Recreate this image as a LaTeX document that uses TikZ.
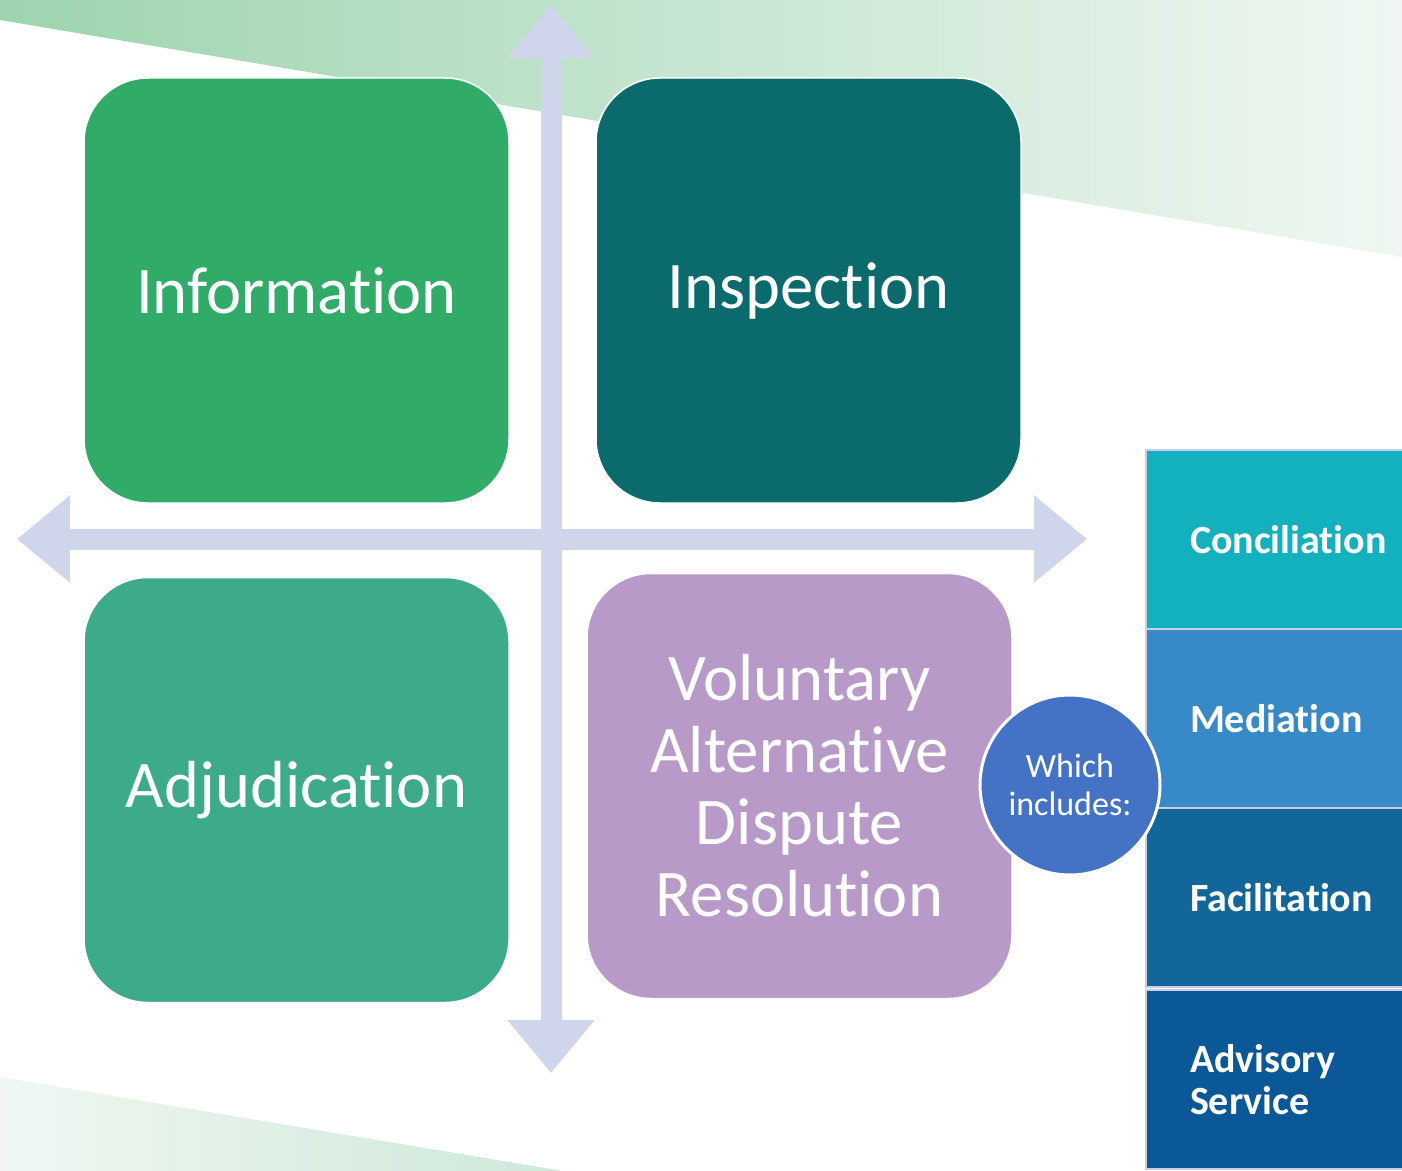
\documentclass[tikz,border=0pt]{standalone}
\usepackage{fontspec}
\setmainfont{Carlito}[Ligatures=NoCommon]
\usepackage{tikz}
\usetikzlibrary{%
  arrows.meta,% Triangle tips of the cross
  positioning,% wg. " of "
  shapes.misc%
}
\definecolor{infogreen}{HTML}{31AC68}
\definecolor{inspteal}{HTML}{0B6B6C}
\definecolor{adjgreen}{HTML}{3DAA89}
\definecolor{adrlilac}{HTML}{B89AC8}
\definecolor{crossblue}{HTML}{CFD5EA}
\definecolor{whichblue}{HTML}{4472C4}
\definecolor{concteal}{HTML}{13B0BE}
\definecolor{medblue}{HTML}{3789C7}
\definecolor{facblue}{HTML}{136699}
\definecolor{advblue}{HTML}{0B5899}
\definecolor{optline}{HTML}{C9CEE6}
\definecolor{bandgreen}{HTML}{9DD4AF}
\definecolor{bandmid}{HTML}{CDE8D8}
\definecolor{bandpale}{HTML}{F0F7F2}

\begin{document}
\begin{tikzpicture}[x=0.5pt,y=-0.5pt,quadrant/.style={
	rectangle,
	minimum width=212.5pt,
	minimum height=212.5pt,
	rounded corners=32pt,
	draw=white, line width=0.75pt,
	text=white,
	align=center,
	font=\fontsize{33.3}{36}\selectfont
	},option/.style={
	rectangle,
	outer sep=0pt,
	text width=110pt, inner xsep=22pt,
	minimum height=89.5pt,
	draw=optline, line width=1pt,
	text=white, align=left,
	font=\bfseries\fontsize{20}{21}\selectfont
	},bubble/.style={
	circle,minimum size=90pt,inner sep=0pt,
	fill=whichblue,draw=white,line width=1.5pt,
	text=white,align=center,
	font=\fontsize{17}{19}\selectfont
	},cross/.style={
	line width=10.5pt,draw=crossblue,
	>={Triangle[length=26.5pt,width=42pt]},<->
	}
]

\useasboundingbox (0,0) rectangle (1402,1171);
\clip (0,0) rectangle (1402,1171);
\fill[white] (0,0) rectangle (1402,1171);

% background bands
\shade[left color=bandgreen, middle color=bandmid, right color=bandpale]
	(0,0) -- (1402,0) -- (1402,257) -- (0,20) -- cycle;
\shade[left color=bandpale, right color=bandmid]
	(0,1077) -- (563,1171) -- (0,1171) -- cycle;

% the cross
\coordinate (N) at (551,5);
\coordinate (S) at (551,1073);
\coordinate (W) at (17,539);
\coordinate (E) at (1087,539);
\draw[cross] (N) -- (S);
\draw[cross] (W) -- (E);

% quadrants
\node (info) [quadrant,fill=infogreen] at (296.5,290.5) {Information};
\node (insp) [quadrant,fill=inspteal] at (808.5,290.5) {Inspection};
\node (adj) [quadrant,fill=adjgreen] at (296.5,790) {Adjudication};
\node (adr) [quadrant,fill=adrlilac] at (799.5,786) {Voluntary\\Alternative\\Dispute\\Resolution};

% options
\node (conc) [option,fill=concteal,anchor=north west] at (1146,450) {Conciliation};
\node (med) [option,fill=medblue,below=0pt of conc] {Mediation};
\node (fac) [option,fill=facblue,below=0pt of med] {Facilitation};
\node (adv) [option,fill=advblue,below=1.5pt of fac] {Advisory\\Service};

\node (which) [bubble] at (1070,785) {Which\\includes:};

\end{tikzpicture}
\end{document}
